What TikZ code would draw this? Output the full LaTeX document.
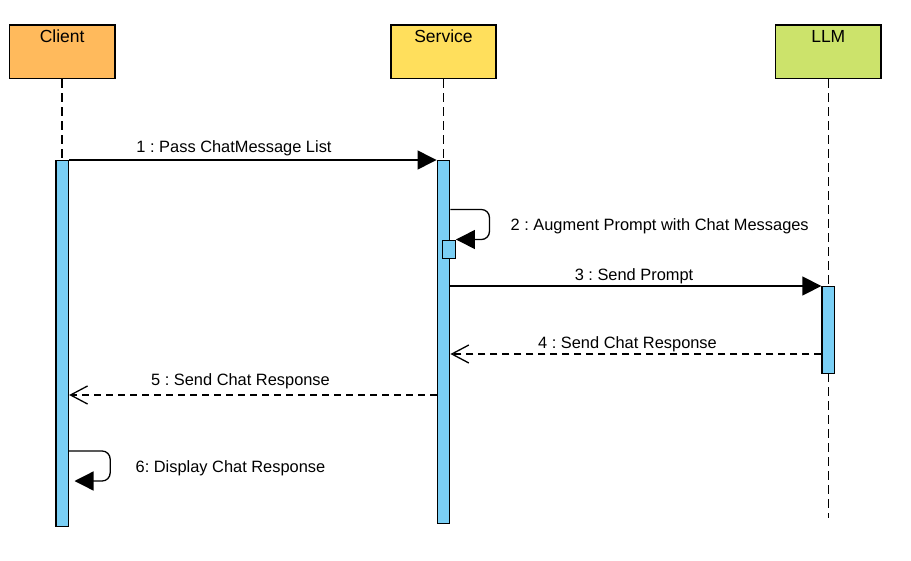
\documentclass[tikz,border=0pt]{standalone}
\usepackage{fontspec}
\setmainfont{Liberation Sans}
\usepackage{xcolor}
\usepackage{tikz}
\usetikzlibrary{arrows.meta}
\usetikzlibrary{calc}
\definecolor{clientc}{HTML}{FFBA5C}
\definecolor{servicec}{HTML}{FFDF5C}
\definecolor{llmc}{HTML}{CCE36B}
\definecolor{barc}{HTML}{7ACFF5}
\frenchspacing

\begin{document}
\begin{tikzpicture}[x=1pt,y=-1pt,line width=1.3pt,font=\fontsize{16.4}{19}\selectfont]
  \tikzstyle{head}=[draw,line width=1.6pt,minimum width=105.5pt,inner sep=0pt,text height=17pt,text depth=36.5pt,anchor=north,font=\fontsize{17.5}{20}\selectfont]
  \tikzstyle{bar}=[draw,fill=barc,line width=1.4pt,minimum width=12.5pt,inner sep=0pt,anchor=north]
  \tikzstyle{life}=[line width=1.5pt,dash pattern=on 9pt off 5pt]
  \tikzstyle{call}=[-{Triangle[length=19pt,width=19pt]}]
  \tikzstyle{reply}=[dash pattern=on 7pt off 5pt,-{Straight Barb[length=17pt,width=18pt]}]
  \tikzstyle{msg}=[anchor=base,inner sep=0pt]
  \useasboundingbox (0,0) rectangle (911,560);
  % lifeline heads
  \node[head,fill=clientc]  (client)  at (62.2,24.3)  {Client};
  \node[head,fill=servicec] (service) at (443.5,24.3) {Service};
  \node[head,fill=llmc]     (llm)     at (828.3,24.3) {LLM};
  % lifelines
  \draw[life] (client.south)  -- (client.south |- 0,526);
  \draw[life] (service.south) -- (service.south |- 0,522);
  \draw[life] (llm.south)     -- (llm.south |- 0,518);
  % activations
  \node[bar,minimum height=366pt]  (clientbar)  at (62.2,160)  {};
  \node[bar,minimum height=363pt]  (servicebar) at (443.5,160) {};
  \node[bar,minimum height=18.4pt] (augbar)     at (449,239.5) {};
  \node[bar,minimum height=86.5pt] (llmbar)     at (828.3,286) {};
  \coordinate (disp) at (74.5,481);
  % messages
  \draw[call] (clientbar.north east) -- (servicebar.north west);
  \draw[call,rounded corners=8pt] (servicebar.east |- 0,209.5) -- ++(39,0) |- (augbar.north east);
  \draw[call] (servicebar.east |- llmbar.north) -- (llmbar.north west);
  \draw[reply] (llmbar.west |- 0,354) -- (servicebar.east |- 0,354);
  \draw[reply] (servicebar.west |- 0,395) -- (clientbar.east |- 0,395);
  \draw[call,rounded corners=8pt] (clientbar.east |- 0,451) -- ++(41,0) |- (disp);
  % labels
  \node[msg] (m1) at (234,152.7) {1 : Pass ChatMessage List};
  \node[msg,anchor=base west] (m2) at (510,230.7) {2 : Augment Prompt with Chat Messages};
  \node[msg] (m3) at (634,280.7) {3 : Send Prompt};
  \node[msg] (m4) at (627.5,348.3) {4 : Send Chat Response};
  \node[msg] (m5) at (240.5,385.7) {5 : Send Chat Response};
  \node[msg,anchor=base west] (m6) at (135,472.7) {6: Display Chat Response};
\end{tikzpicture}
\end{document}
